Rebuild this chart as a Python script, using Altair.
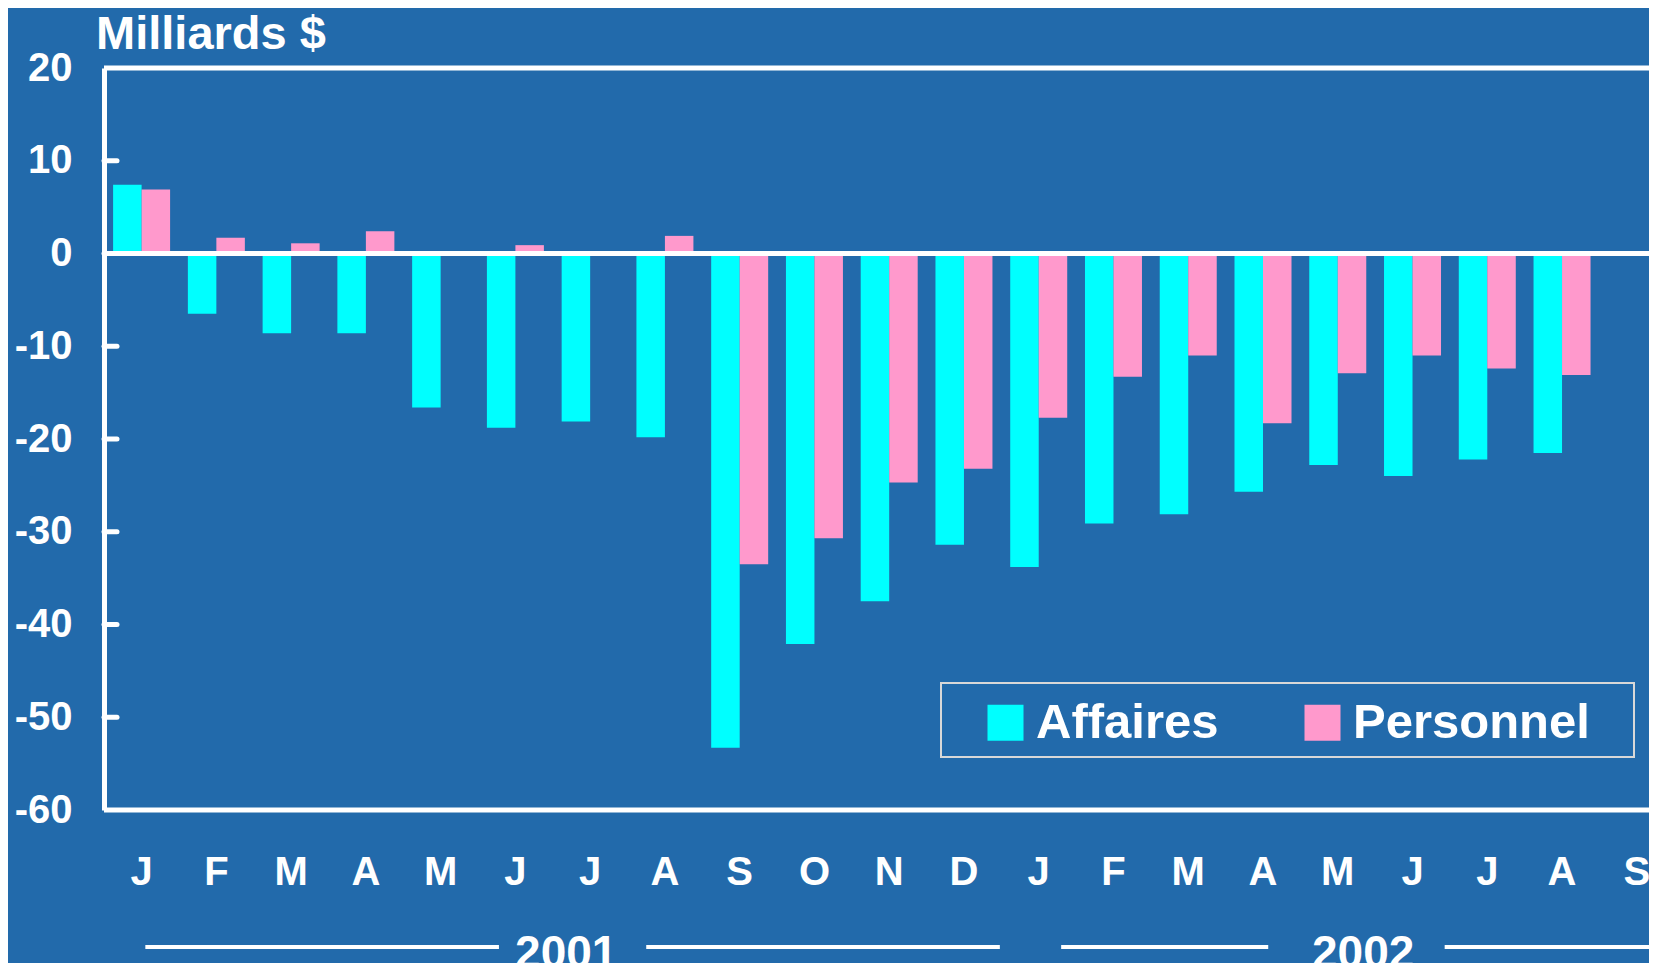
import altair as alt
import pandas as pd

# ---------------- data ----------------
months = ["J", "F", "M", "A", "M", "J", "J", "A", "S", "O", "N", "D",
          "J", "F", "M", "A", "M", "J", "J", "A", "S"]
years = ["2001"] * 12 + ["2002"] * 9
affaires = [7.4, -6.5, -8.6, -8.6, -16.6, -18.8, -18.1, -19.8, -53.3, -42.1,
            -37.5, -31.4, -33.8, -29.1, -28.1, -25.7, -22.8, -24.0, -22.2, -21.5]
personnel = [6.9, 1.7, 1.1, 2.4, 0.0, 0.9, -0.2, 1.9, -33.5, -30.7,
             -24.7, -23.2, -17.7, -13.3, -11.0, -18.3, -12.9, -11.0, -12.4, -13.1]
series = ["Affaires", "Personnel"]
colors = ["#00FFFF", "#FF99CC"]
y_ticks = [20, 10, 0, -10, -20, -30, -40, -50, -60]
unit_title = "Milliards $"

# year bands under the month axis, in month units (0 = first January)
year_labels = ["2001", "2002"]
year_label_pos = [5.68, 16.34]
year_line_from = [0.05, 6.75, 12.30, 17.43]
year_line_to = [4.78, 11.48, 15.07, 20.8]

# ---------------- layout ----------------
FONT = "Liberation Sans"
BG = "#226AAB"
W, H = 1545, 742
STEP = 74.76
C0 = 37.6
BAND = 57.0

keys = [f"{m}_{y}_{i}" for i, (m, y) in enumerate(zip(months, years))]
rows = []
for i in range(len(affaires)):
    rows.append({"key": keys[i], "series": series[0], "value": affaires[i]})
    rows.append({"key": keys[i], "series": series[1], "value": personnel[i]})
df = pd.DataFrame(rows)

x_range = [C0 - BAND / 2, C0 - BAND / 2 + STEP * (len(keys) - (1 - BAND / STEP))]
x_scale = alt.Scale(domain=keys, range=x_range, paddingInner=1 - BAND / STEP, paddingOuter=0)
y_scale = alt.Scale(domain=[-60, 20], nice=False, zero=False)
u_scale = alt.Scale(domain=[-C0 / STEP, (W - C0) / STEP], nice=False, zero=False)

bars = alt.Chart(df).mark_bar(cornerRadius=0).encode(
    x=alt.X("key:N", scale=x_scale, sort=keys, title=None,
            axis=alt.Axis(labelExpr="split(datum.label, '_')[0]", domain=False, ticks=False,
                          labelPadding=42, labelFontSize=40, labelFont=FONT,
                          labelFontWeight="bold", labelColor="white", labelAngle=0,
                          labelBaseline="top")),
    xOffset=alt.XOffset("series:N", scale=alt.Scale(domain=series, paddingInner=0, paddingOuter=0)),
    y=alt.Y("value:Q", scale=y_scale, title=None,
            axis=alt.Axis(values=y_ticks, labelExpr="datum.value + ''",
                          domainColor="white", domainWidth=5, ticks=False,
                          grid=False, labelPadding=32, labelFontSize=40, labelFont=FONT,
                          labelFontWeight="bold", labelColor="white")),
    color=alt.Color("series:N", scale=alt.Scale(domain=series, range=colors),
                    legend=alt.Legend(orient="none", legendX=877, legendY=630, direction="horizontal",
                                      title=None, symbolType="square", symbolSize=1296,
                                      symbolStrokeWidth=0, labelFontSize=49, labelFont=FONT,
                                      labelFontWeight="bold", labelColor="white", labelLimit=500,
                                      labelOffset=6, columnPadding=79, padding=0)),
)

hlines = alt.Chart(pd.DataFrame({"v": [20, 0, -60]})).mark_rule(
    color="white", strokeWidth=5).encode(y=alt.Y("v:Q", scale=y_scale))

ticks = alt.Chart(pd.DataFrame({"v": y_ticks[1:-1]})).mark_rule(
    color="white", strokeWidth=5, strokeCap="round").encode(
    y=alt.Y("v:Q", scale=y_scale), x=alt.value(0), x2=alt.value(13))

year_lines = alt.Chart(pd.DataFrame({"a": year_line_from, "b": year_line_to})).mark_rule(
    color="white", strokeWidth=4).encode(
    x=alt.X("a:Q", scale=u_scale, axis=None), x2="b:Q", y=alt.value(879))

year_text = alt.Chart(pd.DataFrame({"t": year_labels, "u": year_label_pos})).mark_text(
    color="white", font=FONT, fontWeight="bold", fontSize=46, baseline="alphabetic",
    align="center").encode(
    x=alt.X("u:Q", scale=u_scale, axis=None), y=alt.value(900), text="t:N")

title_text = alt.Chart(pd.DataFrame({"t": [unit_title]})).mark_text(
    color="white", font=FONT, fontWeight="bold", fontSize=47, baseline="alphabetic",
    align="left").encode(x=alt.value(-8), y=alt.value(-19), text="t:N")

legend_box = alt.Chart(alt.Data(values=[{}])).mark_rect(
    fillOpacity=0, stroke="#d8d8d8", strokeWidth=2).encode(
    x=alt.value(837), x2=alt.value(1530), y=alt.value(615), y2=alt.value(689))

chart = alt.layer(bars, hlines, ticks, year_lines, year_text, title_text, legend_box).resolve_scale(
    x="independent"
).properties(
    width=W, height=H, background=BG,
    autosize=alt.AutoSizeParams(type="none"),
    padding={"left": 96, "top": 60, "right": 0, "bottom": 153},
).configure_view(stroke=None)

chart.save("out.html", embed_options={"renderer": "svg", "actions": False})
